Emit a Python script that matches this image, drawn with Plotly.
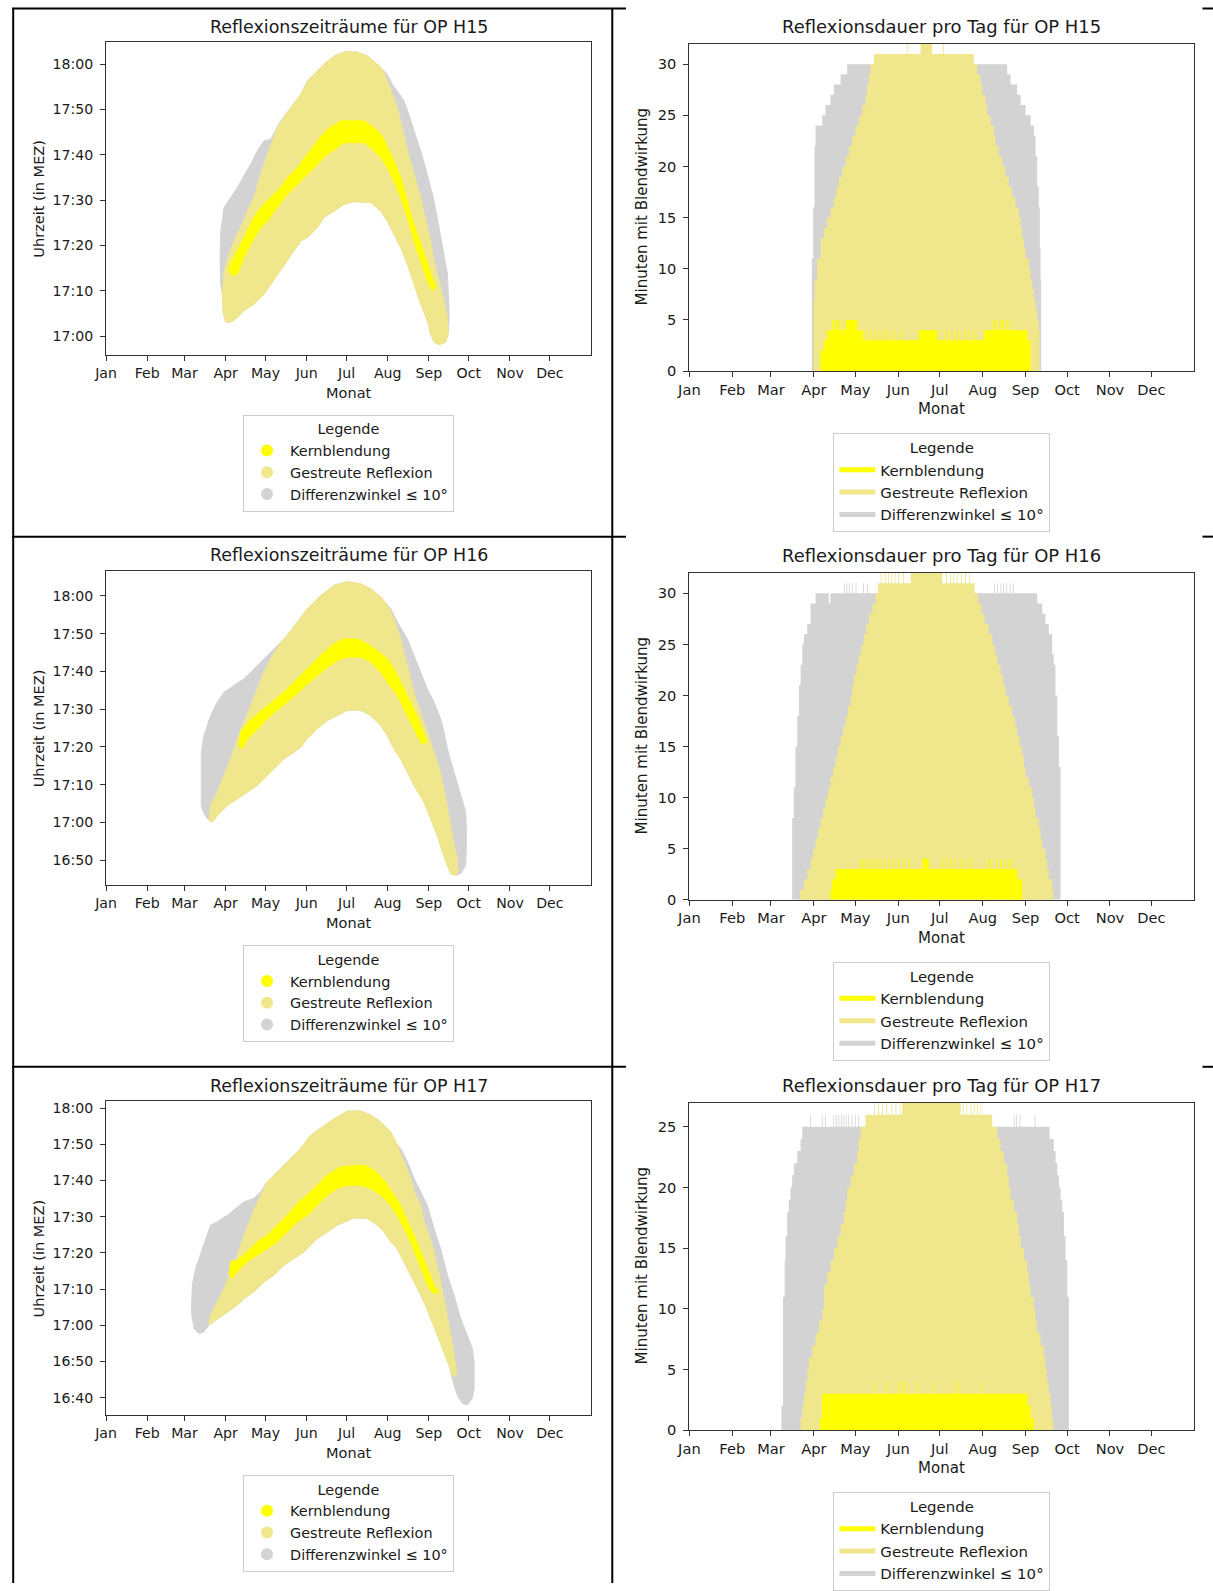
import plotly.graph_objects as go

W, H = 1213, 1591
FONT = "DejaVu Sans"
TXT = "#1a1a1a"
BASE_17 = 17 * 60  # 17:00 in minutes since midnight

MONTH_TICKS = [0, 31, 59, 90, 120, 151, 181, 212, 243, 273, 304, 334]
MONTH_LABELS = ["Jan", "Feb", "Mar", "Apr", "May", "Jun", "Jul", "Aug", "Sep", "Oct", "Nov", "Dec"]
NAMES = ["Kernblendung", "Gestreute Reflexion", "Differenzwinkel \u2264 10\u00b0"]
COLORS = ["#ffff00", "#f0e68c", "#d3d3d3"]
OPS = ["H15", "H16", "H17"]

TIME_TICKS = {
    "H15": ["17:00", "17:10", "17:20", "17:30", "17:40", "17:50", "18:00"],
    "H16": ["16:50", "17:00", "17:10", "17:20", "17:30", "17:40", "17:50", "18:00"],
    "H17": ["16:40", "16:50", "17:00", "17:10", "17:20", "17:30", "17:40", "17:50", "18:00"],
}
MIN_TICKS = {"H15": [0, 5, 10, 15, 20, 25, 30], "H16": [0, 5, 10, 15, 20, 25, 30], "H17": [0, 5, 10, 15, 20, 25]}

# ---- left panels: outlines of the reflection periods (day of year, minutes after 17:00)
H15_DIFF = [(86.3, 11.5), (85.8, 17.4), (86.3, 23.0), (88.8, 28.4), (93.8, 30.6), (98.8, 32.8), (105.1, 36.1),
            (108.8, 37.9), (113.9, 40.9), (118.9, 43.1), (123.9, 43.4), (127.7, 45.6), (131.4, 47.5), (138.9, 50.4),
            (146.5, 53.3), (151.5, 56.3), (156.5, 57.8), (164.0, 60.0), (171.6, 61.8), (179.1, 62.7), (189.1, 62.7),
            (196.7, 61.8), (204.2, 60.0), (211.7, 57.8), (215.5, 55.5), (219.2, 54.1), (224.3, 51.9), (228.0, 48.9),
            (231.8, 45.3), (236.8, 40.9), (241.8, 35.7), (246.8, 29.9), (250.6, 24.0), (254.4, 18.1), (256.9, 13.7),
            (258.1, 6.4), (258.1, 3.4), (257.4, 0.5), (255.6, -1.3), (250.6, -1.9), (246.8, -1.3), (244.3, 0.5),
            (241.8, 3.4), (236.8, 7.1), (231.8, 11.5), (226.8, 15.9), (221.7, 19.6), (216.7, 22.5), (211.7, 25.4),
            (206.7, 27.6), (199.2, 29.5), (186.6, 29.7), (179.1, 29.1), (171.6, 27.6), (164.0, 26.2), (159.0, 24.0),
            (151.5, 21.8), (146.5, 21.0), (141.5, 18.9), (136.4, 16.6), (131.4, 14.4), (123.9, 11.5), (118.9, 9.3),
            (111.3, 7.1), (103.8, 5.6), (98.8, 4.1), (93.8, 3.1), (90.0, 3.1), (88.3, 4.9), (87.5, 9.3)]
H15_SCAT = [(87.5, 9.3), (88.8, 14.4), (92.5, 18.1), (96.3, 21.0), (101.3, 24.0), (106.3, 27.6), (111.3, 30.6),
            (116.4, 35.7), (121.4, 40.1), (125.1, 43.1), (128.9, 46.0), (132.7, 47.8), (138.9, 50.4), (146.5, 53.3),
            (151.5, 56.3), (156.5, 57.8), (164.0, 60.0), (171.6, 61.8), (179.1, 62.7), (189.1, 62.7), (196.7, 61.8),
            (204.2, 60.0), (208.7, 58.5), (211.7, 56.3), (215.5, 53.3), (219.2, 50.4), (221.7, 47.5), (224.3, 43.8),
            (226.8, 40.9), (231.8, 35.7), (236.8, 30.6), (240.6, 25.4), (244.3, 21.0), (246.8, 16.6), (250.6, 12.2),
            (254.4, 7.8), (256.9, 4.1), (257.4, 0.5), (255.6, -1.3), (250.6, -1.9), (246.8, -1.3), (244.3, 0.5),
            (241.8, 3.4), (236.8, 7.1), (231.8, 11.5), (226.8, 15.9), (221.7, 19.6), (216.7, 22.5), (211.7, 25.4),
            (206.7, 27.6), (199.2, 29.5), (186.6, 29.7), (179.1, 29.1), (171.6, 27.6), (164.0, 26.2), (159.0, 24.0),
            (151.5, 21.8), (146.5, 21.0), (141.5, 18.9), (136.4, 16.6), (131.4, 14.4), (123.9, 11.5), (118.9, 9.3),
            (111.3, 7.1), (103.8, 5.6), (98.8, 4.1), (93.8, 3.1), (90.0, 3.1), (88.3, 4.9)]
H15_CORE = [(93.8, 16.0), (96.3, 17.4), (101.3, 20.3), (106.3, 23.2), (111.3, 26.2), (116.4, 28.4), (123.9, 30.6),
            (131.4, 32.8), (136.4, 35.0), (144.0, 37.2), (151.5, 40.1), (159.0, 43.1), (166.5, 45.6), (176.6, 47.5),
            (194.1, 47.5), (201.7, 46.0), (207.9, 44.2), (211.7, 41.6), (216.7, 38.7), (221.7, 35.0), (225.5, 31.3),
            (229.3, 26.9), (234.3, 22.5), (239.3, 18.1), (244.3, 13.7), (248.1, 10.8), (245.6, 10.0), (241.8, 12.2),
            (236.8, 16.6), (231.8, 21.0), (226.8, 26.2), (221.7, 30.6), (216.7, 34.3), (211.7, 37.2), (206.7, 39.4),
            (199.2, 41.6), (194.1, 42.7), (179.1, 42.7), (174.1, 41.6), (166.5, 40.1), (159.0, 37.9), (151.5, 35.7),
            (144.0, 33.5), (136.4, 31.3), (128.9, 28.4), (121.4, 25.4), (116.4, 24.0), (108.8, 20.3), (103.8, 17.4),
            (98.8, 13.7), (95.0, 13.3), (92.5, 14.4)]

H16_DIFF = [(71.7, 4.5), (71.7, 18.6), (73.7, 23.0), (78.7, 28.3), (83.7, 31.9), (88.8, 34.5), (96.3, 36.3),
            (103.8, 38.0), (108.8, 39.8), (116.4, 42.5), (123.9, 45.1), (130.2, 47.3), (136.4, 49.5), (143.9, 53.1),
            (151.5, 56.6), (161.5, 60.1), (171.6, 62.8), (181.6, 63.8), (191.6, 63.2), (199.2, 61.9), (206.7, 59.7),
            (214.2, 56.6), (219.2, 53.1), (226.8, 48.6), (231.8, 44.2), (236.8, 39.8), (241.8, 35.4), (246.8, 31.9),
            (251.8, 27.5), (254.4, 23.9), (256.9, 19.5), (261.9, 13.3), (266.9, 7.2), (270.7, 2.8), (271.4, -4.3),
            (270.7, -11.4), (266.9, -13.6), (263.1, -14.0), (259.4, -13.6), (256.9, -11.4), (253.1, -7.8),
            (249.3, -3.4), (244.3, 1.0), (239.3, 5.4), (231.8, 9.8), (226.8, 13.3), (221.7, 16.8), (216.7, 19.5),
            (211.7, 23.0), (206.7, 25.7), (199.2, 28.3), (191.6, 29.7), (181.6, 29.7), (174.1, 28.3), (166.5, 27.0),
            (159.0, 24.8), (151.5, 22.2), (146.5, 19.9), (141.5, 18.6), (133.9, 16.8), (128.9, 15.1), (123.9, 13.3),
            (118.9, 11.6), (113.9, 9.8), (106.3, 8.0), (98.8, 6.3), (91.3, 4.5), (83.7, 1.9), (80.0, 0.1),
            (76.2, 1.0), (73.7, 2.3)]
H16_SCAT = [(77.5, 0.5), (78.7, 4.5), (83.7, 8.0), (88.8, 12.5), (93.8, 16.8), (98.8, 22.2), (103.8, 26.6),
            (108.8, 31.0), (113.9, 35.4), (118.9, 39.8), (123.9, 43.3), (128.9, 46.4), (131.4, 47.7), (136.4, 49.5),
            (143.9, 53.1), (151.5, 56.6), (161.5, 60.1), (171.6, 62.8), (181.6, 63.8), (191.6, 63.2), (199.2, 61.9),
            (206.7, 59.7), (211.7, 57.5), (216.7, 53.9), (221.7, 48.6), (225.5, 43.3), (229.3, 38.0), (233.0, 32.8),
            (236.8, 29.2), (241.8, 23.9), (246.8, 18.6), (251.8, 13.3), (255.6, 6.3), (259.4, -0.8), (261.9, -6.1),
            (264.4, -9.6), (264.9, -12.7), (263.1, -14.0), (259.4, -13.6), (256.9, -11.4), (253.1, -7.8),
            (249.3, -3.4), (244.3, 1.0), (239.3, 5.4), (231.8, 9.8), (226.8, 13.3), (221.7, 16.8), (216.7, 19.5),
            (211.7, 23.0), (206.7, 25.7), (199.2, 28.3), (191.6, 29.7), (181.6, 29.7), (174.1, 28.3), (166.5, 27.0),
            (159.0, 24.8), (151.5, 22.2), (146.5, 19.9), (141.5, 18.6), (133.9, 16.8), (128.9, 15.1), (123.9, 13.3),
            (118.9, 11.6), (113.9, 9.8), (106.3, 8.0), (98.8, 6.3), (91.3, 4.5), (83.7, 1.9), (80.0, 0.1)]
H16_CORE = [(101.3, 23.9), (106.3, 26.2), (111.3, 28.0), (118.9, 30.1), (126.4, 32.3), (133.9, 34.5), (141.5, 37.2),
            (149.0, 39.8), (156.5, 42.5), (164.0, 45.1), (171.6, 47.3), (179.1, 48.6), (189.1, 48.6), (196.6, 47.3),
            (204.2, 45.5), (211.7, 43.3), (216.7, 40.7), (221.7, 37.2), (226.8, 33.6), (231.8, 30.1), (236.8, 25.7),
            (240.5, 22.2), (241.8, 21.3), (238.0, 20.8), (234.3, 23.0), (229.3, 26.6), (224.2, 30.1), (219.2, 33.6),
            (211.7, 37.2), (206.7, 39.8), (199.2, 42.5), (191.6, 43.8), (181.6, 43.8), (174.1, 42.9), (166.5, 41.1),
            (159.0, 38.9), (151.5, 36.7), (143.9, 34.1), (136.4, 31.9), (128.9, 29.7), (121.4, 27.5), (113.9, 24.7),
            (106.3, 22.0), (102.6, 19.5), (100.0, 20.4)]

H17_DIFF = [(66.2, -0.9), (64.2, 3.7), (64.9, 11.1), (67.4, 15.7), (72.5, 21.2), (78.7, 27.7), (83.8, 28.6),
            (91.3, 30.4), (97.5, 32.3), (103.8, 34.1), (111.3, 35.1), (116.4, 36.9), (121.4, 39.7), (128.9, 42.4),
            (138.9, 46.1), (146.5, 48.9), (154.0, 52.5), (161.5, 54.4), (171.6, 57.1), (181.6, 59.2), (191.6, 59.2),
            (199.2, 58.1), (206.7, 56.2), (214.2, 53.5), (219.2, 49.8), (221.7, 48.9), (226.8, 45.2), (231.8, 40.6),
            (236.8, 36.9), (241.8, 33.2), (246.8, 26.8), (251.8, 21.2), (256.9, 13.9), (261.9, 8.3), (266.9, 1.9),
            (271.9, -2.7), (275.7, -6.4), (277.0, -10.1), (277.0, -17.4), (275.7, -20.2), (271.9, -22.0),
            (268.2, -21.6), (264.4, -19.3), (261.9, -16.5), (258.1, -11.0), (254.4, -7.3), (249.3, -2.7),
            (244.3, 1.9), (239.3, 6.5), (234.3, 10.2), (229.3, 13.9), (224.3, 17.6), (219.2, 21.2), (214.2, 23.1),
            (209.2, 25.8), (204.2, 27.7), (196.6, 29.5), (186.6, 29.7), (179.1, 28.6), (174.1, 27.7), (166.5, 25.8),
            (159.0, 24.0), (154.0, 22.2), (149.0, 20.3), (141.5, 18.5), (133.9, 16.6), (126.4, 13.9), (118.9, 12.0),
            (111.3, 9.3), (103.8, 7.4), (98.8, 5.6), (91.3, 3.7), (83.8, 1.9), (77.5, 0.1), (73.7, -1.8), (70.0, -2.3)]
H17_SCAT = [(77.5, 0.1), (78.7, 2.8), (83.8, 6.5), (88.8, 10.2), (93.8, 14.8), (98.8, 19.4), (103.8, 24.9),
            (108.8, 29.5), (113.9, 34.1), (118.9, 37.8), (121.4, 39.7), (128.9, 42.4), (138.9, 46.1), (146.5, 48.9),
            (154.0, 52.5), (161.5, 54.4), (171.6, 57.1), (181.6, 59.2), (191.6, 59.2), (199.2, 58.1), (206.7, 56.2),
            (214.2, 53.5), (219.2, 49.8), (224.3, 45.2), (229.3, 40.6), (231.8, 36.9), (236.8, 33.2), (239.3, 28.6),
            (243.1, 24.9), (246.8, 20.3), (249.3, 15.7), (251.8, 12.0), (254.4, 7.4), (256.9, 2.8), (259.4, -2.7),
            (261.9, -8.2), (263.9, -12.8), (263.1, -14.2), (260.6, -13.8), (258.1, -11.0), (254.4, -7.3),
            (249.3, -2.7), (244.3, 1.9), (239.3, 6.5), (234.3, 10.2), (229.3, 13.9), (224.3, 17.6), (219.2, 21.2),
            (214.2, 23.1), (209.2, 25.8), (204.2, 27.7), (196.6, 29.5), (186.6, 29.7), (179.1, 28.6), (174.1, 27.7),
            (166.5, 25.8), (159.0, 24.0), (154.0, 22.2), (149.0, 20.3), (141.5, 18.5), (133.9, 16.6), (126.4, 13.9),
            (118.9, 12.0), (111.3, 9.3), (103.8, 7.4), (98.8, 5.6), (91.3, 3.7), (83.8, 1.9)]
H17_CORE = [(93.8, 17.6), (98.8, 18.0), (106.3, 20.3), (113.9, 23.1), (121.4, 24.9), (128.9, 27.7), (136.4, 30.4),
            (144.0, 33.7), (151.5, 36.0), (159.0, 38.7), (166.5, 41.5), (176.6, 43.8), (194.1, 44.3), (201.7, 42.9),
            (209.2, 40.1), (216.7, 36.0), (221.7, 33.2), (226.8, 28.6), (231.8, 24.9), (236.8, 20.3), (241.8, 15.7),
            (246.8, 11.1), (250.6, 9.3), (246.8, 8.8), (243.1, 10.2), (239.3, 13.9), (234.3, 18.5), (229.3, 23.1),
            (224.3, 26.8), (219.2, 30.4), (214.2, 33.2), (206.7, 36.0), (199.2, 37.8), (191.6, 38.7), (181.6, 38.7),
            (174.1, 37.8), (166.5, 36.0), (159.0, 33.2), (151.5, 30.4), (144.0, 28.6), (136.4, 25.8), (128.9, 23.1),
            (121.4, 21.2), (113.9, 19.4), (106.3, 17.6), (98.8, 14.8), (95.0, 13.0), (92.5, 13.9), (93.3, 16.6)]

# ---- right panels: minutes per day (day of year where the daily value changes, new value)
H15_DIFF_MIN = [(88.5, 11), (89.5, 16), (90.5, 22), (91.2, 24), (96.0, 25), (98.4, 26), (102.0, 27), (104.4, 28),
                (109.3, 29), (114.1, 30), (229.7, 29), (232.1, 28), (236.9, 27), (239.4, 26), (243.0, 25),
                (246.6, 24), (249.0, 23), (250.2, 21), (251.4, 18), (252.6, 16), (253.3, 12), (253.8, 9), (254.3, 0)]
H15_SCAT_MIN = [(89.8, 7), (90.5, 9), (92.4, 11), (94.8, 13), (97.2, 14), (99.6, 15), (102.0, 16), (104.4, 17),
                (106.2, 18), (108.1, 19), (110.5, 20), (112.9, 21), (115.3, 22), (117.7, 23), (120.1, 24),
                (122.5, 25), (124.9, 26), (127.3, 27), (128.5, 28), (129.7, 29), (130.9, 30), (133.4, 31),
                (157.2, 32), (157.8, 31), (167.1, 32), (175.5, 31), (183.4, 32), (184.0, 31), (205.6, 30),
                (208.0, 29), (210.5, 28), (211.7, 27), (214.1, 26), (215.3, 25), (217.7, 24), (220.1, 23),
                (221.3, 22), (223.7, 21), (226.1, 20), (228.5, 19), (230.9, 18), (233.3, 17), (235.7, 16),
                (238.2, 15), (239.4, 14), (240.6, 13), (241.8, 12), (243.0, 11), (245.4, 10), (246.6, 9),
                (247.8, 8), (249.0, 7), (250.2, 6), (251.4, 5), (252.6, 4), (253.3, 0)]
H15_CORE_MIN = [(94.8, 2), (97.2, 3), (99.6, 4), (103.3, 5), (104.5, 4), (105.7, 5), (106.9, 4), (108.1, 5),
                (109.3, 4), (112.9, 5), (121.3, 4), (124.9, 3), (125.5, 4), (126.1, 3), (128.5, 4), (129.1, 3),
                (131.5, 4), (132.1, 3), (134.5, 4), (135.1, 3), (137.5, 4), (138.1, 3), (140.5, 4), (141.1, 3),
                (143.5, 4), (144.1, 3), (148.5, 4), (149.1, 3), (152.5, 4), (153.1, 3), (165.9, 4), (179.1, 3),
                (184.0, 4), (184.6, 3), (188.0, 4), (188.6, 3), (191.2, 4), (191.8, 3), (194.8, 4), (195.4, 3),
                (198.4, 4), (199.0, 3), (202.0, 4), (202.6, 3), (205.6, 4), (206.2, 3), (212.9, 4), (218.9, 5),
                (219.5, 4), (221.3, 5), (222.5, 4), (224.9, 5), (225.5, 4), (226.1, 5), (227.3, 4), (229.7, 5),
                (230.3, 4), (231.5, 5), (232.1, 4), (244.2, 3), (246.6, 0)]

H16_DIFF_MIN = [(74.3, 8), (75.5, 11), (76.7, 15), (78.0, 18), (79.2, 21), (80.4, 23), (81.6, 25), (82.8, 26),
                (85.2, 27), (87.6, 29), (91.2, 30), (100.8, 29), (102.0, 30), (111.7, 31), (112.3, 30), (113.5, 31),
                (114.1, 30), (115.3, 31), (115.9, 30), (117.7, 31), (118.3, 30), (120.1, 31), (120.7, 30),
                (125.5, 31), (126.1, 30), (128.5, 31), (129.1, 30), (220.1, 31), (220.7, 30), (222.5, 31),
                (223.1, 30), (224.9, 31), (225.5, 30), (226.7, 31), (227.3, 30), (229.1, 31), (229.7, 30),
                (231.5, 31), (232.1, 30), (233.9, 31), (234.5, 30), (251.4, 29), (255.0, 28), (257.4, 27),
                (259.8, 26), (262.2, 24), (263.4, 23), (264.6, 20), (265.9, 16), (267.1, 13), (268.3, 0)]
H16_SCAT_MIN = [(79.9, 1), (82.8, 2), (85.2, 3), (87.6, 4), (89.4, 5), (91.2, 6), (93.0, 7), (94.8, 8), (96.6, 9),
                (98.4, 10), (100.2, 11), (102.0, 12), (103.8, 13), (105.7, 14), (107.5, 15), (109.3, 16),
                (111.1, 17), (112.9, 18), (114.7, 19), (116.5, 20), (117.7, 21), (118.9, 22), (120.7, 23),
                (122.5, 24), (124.3, 25), (126.1, 26), (127.9, 27), (129.7, 28), (132.2, 29), (134.6, 30),
                (136.4, 31), (138.2, 32), (138.8, 31), (141.2, 32), (141.8, 31), (143.6, 32), (144.2, 31),
                (146.0, 32), (146.6, 31), (148.4, 32), (149.0, 31), (150.8, 32), (151.4, 31), (154.4, 32),
                (155.0, 31), (159.9, 32), (182.7, 31), (185.5, 32), (186.1, 31), (188.5, 32), (189.1, 31),
                (190.9, 32), (191.5, 31), (193.3, 32), (193.9, 31), (196.3, 32), (196.9, 31), (199.3, 32),
                (199.9, 31), (202.0, 32), (202.6, 31), (206.2, 30), (208.6, 29), (211.0, 28), (213.4, 27),
                (216.5, 26), (218.9, 25), (220.7, 24), (222.5, 23), (224.9, 22), (226.7, 21), (228.5, 20),
                (230.9, 19), (233.3, 18), (235.1, 17), (236.9, 16), (238.7, 15), (240.6, 14), (241.8, 13),
                (243.0, 12), (245.4, 11), (247.8, 10), (249.0, 9), (250.2, 8), (252.6, 7), (253.8, 6), (255.0, 5),
                (257.4, 4), (258.6, 3), (259.8, 2), (262.2, 1), (263.0, 0)]
H16_CORE_MIN = [(102.0, 1), (103.2, 2), (105.7, 3), (123.7, 4), (124.3, 3), (125.5, 4), (126.1, 3), (127.3, 4),
                (127.9, 3), (129.7, 4), (130.3, 3), (132.1, 4), (132.7, 3), (134.5, 4), (135.1, 3), (137.5, 4),
                (138.1, 3), (140.5, 4), (141.1, 3), (144.1, 4), (144.7, 3), (147.7, 4), (148.3, 3), (151.3, 4),
                (151.9, 3), (155.5, 4), (156.1, 3), (158.5, 4), (159.1, 3), (168.3, 4), (173.1, 3), (182.7, 4),
                (183.3, 3), (186.3, 4), (186.9, 3), (189.3, 4), (189.9, 3), (192.3, 4), (192.9, 3), (196.5, 4),
                (197.1, 3), (200.1, 4), (200.7, 3), (203.7, 4), (204.3, 3), (214.5, 4), (215.1, 3), (218.1, 4),
                (218.7, 3), (221.7, 4), (222.3, 3), (225.3, 4), (225.9, 3), (227.7, 4), (228.3, 3), (230.1, 4),
                (230.7, 3), (232.5, 4), (233.1, 3), (236.9, 2), (240.6, 0)]

H17_DIFF_MIN = [(66.5, 2), (67.7, 11), (68.9, 14), (69.5, 16), (70.7, 18), (71.9, 19), (73.1, 20), (74.3, 21),
                (75.5, 22), (78.0, 23), (80.4, 24), (81.6, 25), (87.3, 26), (87.9, 25), (95.7, 26), (96.3, 25),
                (98.1, 26), (98.7, 25), (104.1, 26), (104.7, 25), (105.9, 26), (106.5, 25), (107.7, 26),
                (108.3, 25), (109.5, 26), (110.1, 25), (111.3, 26), (111.9, 25), (113.1, 26), (113.7, 25),
                (114.9, 26), (115.5, 25), (117.3, 26), (117.9, 25), (119.7, 26), (120.3, 25), (122.1, 26),
                (122.7, 25), (234.5, 26), (235.1, 25), (236.3, 26), (236.9, 25), (238.7, 26), (239.3, 25),
                (249.5, 26), (250.1, 25), (260.4, 24), (263.4, 23), (264.7, 22), (265.9, 21), (267.1, 20),
                (268.3, 19), (269.5, 18), (270.7, 16), (271.9, 14), (273.1, 11), (274.3, 0)]
H17_SCAT_MIN = [(80.4, 1), (81.6, 2), (82.8, 3), (84.0, 4), (85.2, 5), (86.4, 6), (88.8, 7), (91.2, 8), (93.6, 9),
                (96.0, 10), (97.2, 12), (99.6, 13), (102.0, 14), (104.5, 15), (106.9, 16), (109.3, 17),
                (111.7, 18), (113.0, 19), (114.1, 20), (116.5, 21), (118.9, 22), (121.3, 23), (122.5, 24),
                (123.7, 25), (127.3, 26), (133.4, 27), (134.0, 26), (136.4, 27), (137.0, 26), (139.4, 27),
                (140.0, 26), (142.4, 27), (143.0, 26), (146.0, 27), (146.6, 26), (149.0, 27), (149.6, 26),
                (152.0, 27), (152.6, 26), (153.8, 27), (196.0, 26), (197.8, 27), (198.4, 26), (200.2, 27),
                (200.8, 26), (203.2, 27), (203.8, 26), (205.6, 27), (206.2, 26), (208.0, 27), (208.6, 26),
                (210.4, 27), (211.0, 26), (218.9, 25), (222.5, 24), (224.9, 23), (227.3, 22), (229.7, 21),
                (231.0, 20), (232.1, 19), (234.5, 18), (236.9, 17), (238.2, 16), (239.4, 15), (241.8, 14),
                (244.2, 13), (245.4, 12), (246.6, 11), (249.0, 10), (250.2, 9), (251.4, 8), (253.8, 7), (256.2, 6),
                (257.4, 5), (258.6, 4), (259.8, 3), (261.0, 2), (262.0, 1), (263.0, 0)]
H17_CORE_MIN = [(94.3, 1), (96.0, 3), (134.4, 4), (134.9, 3), (142.8, 4), (143.3, 3), (151.2, 4), (151.7, 3),
                (153.6, 4), (154.1, 3), (156.0, 4), (156.5, 3), (164.5, 4), (165.0, 3), (176.5, 4), (177.0, 3),
                (191.0, 4), (191.5, 3), (194.6, 4), (195.1, 3), (210.3, 4), (210.8, 3), (244.2, 2), (246.6, 1),
                (249.0, 0)]

LEFT_DATA = {"H15": (H15_CORE, H15_SCAT, H15_DIFF), "H16": (H16_CORE, H16_SCAT, H16_DIFF),
             "H17": (H17_CORE, H17_SCAT, H17_DIFF)}
RIGHT_DATA = {"H15": (H15_CORE_MIN, H15_SCAT_MIN, H15_DIFF_MIN), "H16": (H16_CORE_MIN, H16_SCAT_MIN, H16_DIFF_MIN),
              "H17": (H17_CORE_MIN, H17_SCAT_MIN, H17_DIFF_MIN)}

# ---- layout geometry, in pixels of the target picture
LEFT_X = (105.4, 590.4)
RIGHT_X = (688.8, 1193.9)
LEFT_Y = [(41.0, 354.0), (570.0, 885.0), (1101.0, 1415.0)]
RIGHT_Y = [(42.7, 370.3), (572.3, 899.3), (1102.3, 1430.0)]
LEFT_RANGE = {"H15": (1015.9, 1084.9), "H16": (1003.3, 1086.7), "H17": (995.2, 1081.9)}
RIGHT_RANGE = {"H15": (0, 32), "H16": (0, 32), "H17": (0, 27)}

# the captured page maps figure px to picture px as: pic = OFF + SCALE * fig ; compensate for it
OX, SX = 11.3, 0.9903
OY, SY = 0.0, 0.995


def hm(s):
    h, m = s.split(":")
    return int(h) * 60 + int(m)


def fx(x):
    f = (x - OX) / SX
    return min(max(f, 0.0), W) / W


def fy(y):
    f = (y - OY) / SY
    return 1 - min(max(f, 0.0), H) / H


def fs(size):
    return size / SX


fig = go.Figure()
layout = dict(width=W, height=H, margin=dict(l=0, r=0, t=0, b=0), paper_bgcolor="white",
              plot_bgcolor="white", font=dict(family=FONT, size=fs(14), color=TXT), showlegend=True)
annotations = []
shapes = []

for r, op in enumerate(OPS):
    for c in range(2):
        idx = 2 * r + c + 1
        xk = "xaxis" if idx == 1 else f"xaxis{idx}"
        yk = "yaxis" if idx == 1 else f"yaxis{idx}"
        xr = "x" if idx == 1 else f"x{idx}"
        yr = "y" if idx == 1 else f"y{idx}"
        lg = "legend" if idx == 1 else f"legend{idx}"
        px0, px1 = LEFT_X if c == 0 else RIGHT_X
        top, bot = LEFT_Y[r] if c == 0 else RIGHT_Y[r]
        tick_sz = fs(14.0) if c == 0 else fs(14.5)
        lab_sz = fs(14.4) if c == 0 else fs(14.9)
        leg_sz = fs(14.3) if c == 0 else fs(14.8)
        tit_sz = fs(17.3) if c == 0 else fs(17.8)
        axis_common = dict(showgrid=False, zeroline=False, showline=True, mirror=True, linecolor="#333333",
                           linewidth=1, ticks="outside", ticklen=fs(5), tickwidth=1, tickcolor="#333333",
                           tickfont=dict(family=FONT, size=tick_sz, color=TXT), fixedrange=True)
        layout[xk] = dict(axis_common, domain=[fx(px0), fx(px1)], anchor=yr, range=[0, 365],
                          tickmode="array", tickvals=MONTH_TICKS, ticktext=MONTH_LABELS)
        if c == 0:
            tv = [hm(t) for t in TIME_TICKS[op]]
            layout[yk] = dict(axis_common, domain=[fy(bot), fy(top)], anchor=xr, range=list(LEFT_RANGE[op]),
                              tickmode="array", tickvals=tv, ticktext=TIME_TICKS[op], ticklabelstandoff=4)
            data = LEFT_DATA[op]
            for k in (2, 1, 0):
                poly = data[k]
                fig.add_trace(go.Scatter(
                    x=[p[0] for p in poly] + [poly[0][0]],
                    y=[BASE_17 + p[1] for p in poly] + [BASE_17 + poly[0][1]],
                    mode="lines", fill="toself", fillcolor=COLORS[k],
                    line=dict(color=COLORS[k], width=1), hoverinfo="skip", showlegend=False,
                    xaxis=xr, yaxis=yr))
            for k in (0, 1, 2):
                fig.add_trace(go.Scatter(
                    x=[None], y=[None], mode="markers", name=NAMES[k],
                    marker=dict(color=COLORS[k], size=10, symbol="circle"),
                    legend=lg, legendrank=k + 1, xaxis=xr, yaxis=yr))
            title = f"Reflexionszeitr\u00e4ume f\u00fcr OP {op}"
            ytitle = "Uhrzeit (in MEZ)"
            ytx = 38.6
            t_off, leg_off = 15.4, 60.0
        else:
            layout[yk] = dict(axis_common, domain=[fy(bot), fy(top)], anchor=xr, range=list(RIGHT_RANGE[op]),
                              tickmode="array", tickvals=MIN_TICKS[op],
                              ticktext=[str(v) for v in MIN_TICKS[op]], ticklabelstandoff=4)
            data = RIGHT_DATA[op]
            for k in (2, 1, 0):
                steps = data[k]
                fig.add_trace(go.Scatter(
                    x=[s[0] for s in steps], y=[s[1] for s in steps],
                    mode="lines", line=dict(shape="hv", width=0, color=COLORS[k]),
                    fill="tozeroy", fillcolor=COLORS[k], hoverinfo="skip", showlegend=False,
                    xaxis=xr, yaxis=yr))
            for k in (0, 1, 2):
                fig.add_trace(go.Scatter(
                    x=[None], y=[None], mode="lines", name=NAMES[k],
                    line=dict(color=COLORS[k], width=10),
                    legend=lg, legendrank=k + 1, xaxis=xr, yaxis=yr))
            title = f"Reflexionsdauer pro Tag f\u00fcr OP {op}"
            ytitle = "Minuten mit Blendwirkung"
            ytx = 641.5
            t_off, leg_off = 17.2, 62.0
        cx = (px0 + px1) / 2
        annotations.append(dict(text=title, x=fx(cx), y=fy(top - t_off), xref="paper", yref="paper",
                                showarrow=False, xanchor="center", yanchor="middle",
                                font=dict(family=FONT, size=tit_sz, color=TXT)))
        annotations.append(dict(text="Monat", x=fx(cx), y=fy(bot + 38.0), xref="paper", yref="paper",
                                showarrow=False, xanchor="center", yanchor="middle",
                                font=dict(family=FONT, size=lab_sz, color=TXT)))
        annotations.append(dict(text=ytitle, x=fx(ytx), y=fy((top + bot) / 2), xref="paper", yref="paper",
                                showarrow=False, xanchor="center", yanchor="middle", textangle=-90,
                                font=dict(family=FONT, size=lab_sz, color=TXT)))
        layout[lg] = dict(x=fx(cx), y=fy(bot + leg_off), xanchor="center", yanchor="top", bgcolor="white",
                          bordercolor="#cccccc", borderwidth=1, itemsizing="constant", itemwidth=36,
                          font=dict(family=FONT, size=leg_sz, color=TXT),
                          title=dict(text="Legende", side="top center",
                                     font=dict(family=FONT, size=leg_sz, color=TXT)))

# ---- table borders of the document (picture px)
ROW_LINES = [7.5, 536.0, 1066.5]
for yl in ROW_LINES:
    shapes.append(dict(type="line", xref="paper", yref="paper", x0=fx(8), x1=fx(625.4), y0=fy(yl), y1=fy(yl),
                       line=dict(color="black", width=2)))
    shapes.append(dict(type="line", xref="paper", yref="paper", x0=fx(1202), x1=fx(1213), y0=fy(yl), y1=fy(yl),
                       line=dict(color="black", width=2)))
for xl in (12.5, 611.7):
    shapes.append(dict(type="line", xref="paper", yref="paper", x0=fx(xl), x1=fx(xl), y0=fy(7.5), y1=fy(1591),
                       line=dict(color="black", width=2)))

layout["annotations"] = annotations
layout["shapes"] = shapes
fig.update_layout(**layout)
fig.write_html(
    "out.html",
    config={"displayModeBar": False, "responsive": False},
    post_script=("document.documentElement.style.margin='0px';document.body.style.margin='0px';"
                 "document.documentElement.style.overflow='hidden';document.body.style.overflow='hidden';"
                 "var d=document.getElementById('{plot_id}');d.style.position='absolute';"
                 "d.style.left='0px';d.style.top='0px';"),
)
